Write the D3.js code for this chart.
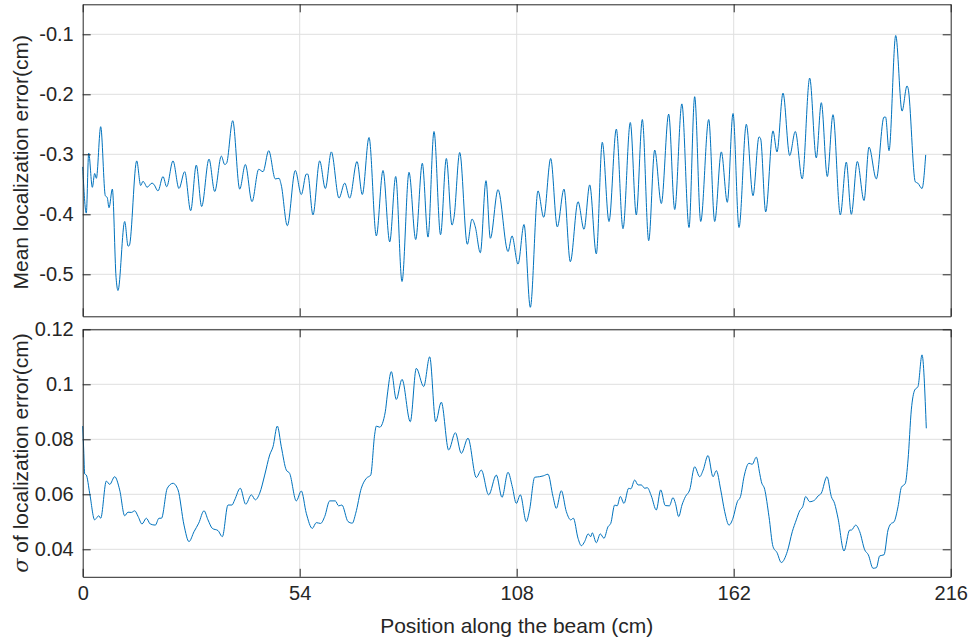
<!DOCTYPE html>
<html>
<head>
<meta charset="utf-8">
<script src="https://cdn.jsdelivr.net/npm/d3@7"></script>
<style>
body { margin: 0; background: #ffffff; }
text { font-family: "Liberation Sans", Arial, sans-serif; fill: #262626; }
</style>
</head>
<body>
<svg id="chart"></svg>
<script>
// top panel: mean localization error (x in cm)
var meanX = [0, 0.9, 1.49, 2.4, 2.98, 3.4, 4.48, 5.63, 6.1, 6.55, 7.38, 8.3, 8.78, 10.45, 11.3, 11.6, 13.44, 14.43, 15.0, 15.4,
	16.0, 17.25, 17.7, 18.74, 19.98, 20.9, 22.47, 23.96, 25.38, 26.87, 28.27, 29.6, 31.43, 32.85, 34.5, 35.33, 35.8, 37.33, 39.07, 40.47,
	42.13, 43.8, 44.87, 46.29, 47.93, 48.85, 49.4, 50.92, 52.9, 54.4, 55.64, 56.0, 57.3, 58.97, 60.38, 61.87, 63.78, 65.2, 66.44, 68.26,
	69.58, 71.25, 73.07, 74.73, 76.4, 77.89, 79.46, 81.2, 82.87, 84.51, 85.93, 87.42, 89.05, 90.49, 91.9, 92.4, 93.82, 95.71, 96.88, 97.7,
	98.95, 100.36, 101.44, 103.35, 105.84, 106.83, 108.33, 109.82, 111.39, 113.3, 114.72, 116.46, 118.1, 119.77, 121.34, 123.26, 124.75, 126.17, 127.81, 129.3,
	130.97, 132.79, 134.45, 136.27, 137.76, 139.26, 140.85, 142.34, 143.99, 145.82, 147.32, 149.1, 150.88, 152.29, 153.79, 155.78, 157.27, 158.92, 160.41, 161.83,
	163.32, 165.14, 166.8, 168.3, 168.7, 169.96, 171.78, 172.77, 174.27, 175.93, 177.33, 179.05, 180.91, 182.55, 183.8, 185.29, 186.71, 188.53, 190.02, 191.27,
	192.76, 194.43, 195.67, 197.49, 199.4, 199.8, 200.65, 202.32, 203.89, 205.13, 205.4, 207.2, 207.8, 208.86, 209.78];
var meanY = [-0.321, -0.398, -0.298, -0.355, -0.332, -0.340, -0.254, -0.369, -0.372, -0.389, -0.358, -0.505, -0.527, -0.412, -0.453, -0.452, -0.311, -0.352, -0.345, -0.348,
	-0.355, -0.348, -0.350, -0.361, -0.337, -0.354, -0.311, -0.357, -0.329, -0.394, -0.318, -0.387, -0.308, -0.362, -0.303, -0.317, -0.315, -0.244, -0.358, -0.317,
	-0.379, -0.325, -0.329, -0.294, -0.341, -0.340, -0.351, -0.419, -0.327, -0.367, -0.333, -0.333, -0.401, -0.311, -0.357, -0.296, -0.373, -0.348, -0.373, -0.312,
	-0.367, -0.272, -0.436, -0.327, -0.446, -0.337, -0.512, -0.330, -0.442, -0.315, -0.438, -0.262, -0.434, -0.307, -0.418, -0.405, -0.297, -0.450, -0.408, -0.421,
	-0.464, -0.344, -0.440, -0.359, -0.462, -0.436, -0.483, -0.417, -0.555, -0.361, -0.405, -0.307, -0.421, -0.358, -0.479, -0.379, -0.425, -0.351, -0.466, -0.280,
	-0.412, -0.258, -0.424, -0.247, -0.401, -0.242, -0.444, -0.293, -0.382, -0.233, -0.392, -0.216, -0.422, -0.204, -0.412, -0.242, -0.412, -0.296, -0.380, -0.232,
	-0.422, -0.250, -0.369, -0.271, -0.274, -0.396, -0.261, -0.296, -0.198, -0.302, -0.262, -0.341, -0.173, -0.306, -0.214, -0.337, -0.234, -0.401, -0.313, -0.400,
	-0.312, -0.377, -0.288, -0.341, -0.238, -0.238, -0.294, -0.102, -0.228, -0.186, -0.190, -0.346, -0.348, -0.357, -0.301];

// bottom panel: standard deviation of localization error
var sigmaX = [0, 0.25, 0.5, 0.9, 1.74, 2.98, 3.4, 3.98, 4.48, 5.88, 6.72, 7.96, 9.2, 10.45, 11.27, 12.1, 12.94, 13.8, 14.76, 15.83,
	16.82, 18.07, 18.99, 19.6, 21.05, 22.47, 23.72, 25.21, 26.45, 27.7, 28.87, 30.19, 31.18, 32.26, 33.67, 34.75, 36.16, 37.15, 37.8, 39.22,
	40.56, 41.97, 42.96, 44.05, 45.29, 46.53, 47.36, 48.43, 49.42, 50.67, 51.5, 53.15, 54.4, 55.64, 57.14, 58.13, 59.2, 60.22, 61.47, 62.86,
	63.69, 64.5, 66.02, 67.09, 67.94, 69.33, 70.57, 71.67, 72.66, 73.07, 73.9, 75.3, 75.8, 76.8, 78.04, 79.46, 81.52, 83.02, 84.86, 86.35,
	87.84, 89.24, 91.07, 92.73, 94.22, 95.88, 97.95, 99.19, 101.03, 102.93, 104.34, 105.84, 106.9, 107.9, 108.9, 110.39, 111.2, 112.48, 113.72, 114.6,
	115.79, 117.03, 117.86, 119.1, 120.35, 121.44, 122.1, 123.26, 124.09, 124.9, 125.79, 126.42, 126.8, 127.81, 128.8, 129.72, 130.72, 131.4, 132.39, 133.0,
	133.79, 134.7, 135.87, 136.4, 137.37, 138.19, 139.0, 139.86, 140.5, 141.5, 142.74, 143.83, 144.98, 146.0, 146.89, 147.5, 148.31, 149.13, 150.0, 151.05,
	152.29, 153.54, 154.4, 155.61, 156.85, 157.68, 158.77, 159.76, 160.83, 161.82, 162.9, 163.7, 164.57, 165.81, 166.6, 167.63, 168.47, 168.88, 169.71, 170.78,
	171.78, 172.77, 173.85, 175.34, 176.58, 177.58, 178.42, 179.2, 179.91, 180.91, 182.15, 183.0, 183.8, 185.21, 186.29, 187.1, 187.96, 189.45, 190.87, 191.3,
	192.36, 193.36, 194.6, 195.5, 196.67, 197.5, 198.33, 199.4, 200.4, 201.06, 201.9, 202.89, 203.72, 204.71, 205.38, 206.2, 207.04, 207.86, 208.86, 209.93];
var sigmaY = [0.0848, 0.0761, 0.0674, 0.0670, 0.0604, 0.0507, 0.0513, 0.0522, 0.0513, 0.0648, 0.0636, 0.0664, 0.0616, 0.0522, 0.0535, 0.0534, 0.0540, 0.0519, 0.0492, 0.0513,
	0.0492, 0.0488, 0.0513, 0.0513, 0.0622, 0.0640, 0.0616, 0.0488, 0.0428, 0.0464, 0.0495, 0.0540, 0.0507, 0.0476, 0.0468, 0.0446, 0.0561, 0.0561, 0.0579, 0.0622,
	0.0564, 0.0598, 0.0580, 0.0604, 0.0670, 0.0743, 0.0773, 0.0848, 0.0773, 0.0688, 0.0676, 0.0576, 0.0612, 0.0531, 0.0476, 0.0497, 0.0494, 0.0519, 0.0576, 0.0576,
	0.0558, 0.0561, 0.0501, 0.0495, 0.0531, 0.0622, 0.0658, 0.0670, 0.0818, 0.0848, 0.0844, 0.0900, 0.0961, 0.1046, 0.0945, 0.1018, 0.0864, 0.1058, 0.0992, 0.1100,
	0.0864, 0.0935, 0.0761, 0.0824, 0.0749, 0.0804, 0.0661, 0.0688, 0.0598, 0.0670, 0.0589, 0.0680, 0.0628, 0.0567, 0.0598, 0.0501, 0.0543, 0.0662, 0.0664, 0.0667,
	0.0673, 0.0592, 0.0549, 0.0613, 0.0537, 0.0507, 0.0513, 0.0440, 0.0413, 0.0428, 0.0456, 0.0446, 0.0460, 0.0424, 0.0456, 0.0440, 0.0482, 0.0494, 0.0561, 0.0558,
	0.0592, 0.0567, 0.0622, 0.0620, 0.0652, 0.0634, 0.0634, 0.0622, 0.0624, 0.0594, 0.0543, 0.0616, 0.0559, 0.0558, 0.0588, 0.0567, 0.0519, 0.0561, 0.0592, 0.0616,
	0.0700, 0.0664, 0.0688, 0.0741, 0.0664, 0.0686, 0.0616, 0.0537, 0.0488, 0.0513, 0.0573, 0.0592, 0.0664, 0.0713, 0.0709, 0.0735, 0.0676, 0.0646, 0.0618, 0.0519,
	0.0410, 0.0388, 0.0352, 0.0392, 0.0464, 0.0507, 0.0540, 0.0556, 0.0592, 0.0573, 0.0579, 0.0594, 0.0604, 0.0664, 0.0592, 0.0567, 0.0513, 0.0394, 0.0470, 0.0470,
	0.0488, 0.0464, 0.0398, 0.0380, 0.0331, 0.0333, 0.0376, 0.0380, 0.0470, 0.0492, 0.0500, 0.0555, 0.0625, 0.0640, 0.0725, 0.0907, 0.0979, 0.0992, 0.1107, 0.0840];

var xTicks = [0, 54, 108, 162, 216];
var meanTicks = [-0.5, -0.4, -0.3, -0.2, -0.1];
var sigmaTicks = [0.04, 0.06, 0.08, 0.1, 0.12];

var dims = {
	width: 971,
	height: 644,
	left: 82.7,
	right: 950.7,
	tickLen: 8,
	tickFont: 20,
	labelFont: 21
};
dims.top = { y0: 4.3, y1: 316.3, domain: [-0.57, -0.05] };
dims.bottom = { y0: 329.3, y1: 576.8, domain: [0.03, 0.12] };

var lineColor = '#0072bd';
var axisColor = '#262626';
var gridColor = '#dfdfdf';

var svg = d3.select('#chart')
	.attr('width', dims.width)
	.attr('height', dims.height);

var x = d3.scaleLinear().domain([0, 216]).range([dims.left, dims.right]);

function drawPanel(p, ticks, xs, ys, fmt, showXLabels) {
	var y = d3.scaleLinear().domain(p.domain).range([p.y1, p.y0]);
	var g = svg.append('g');

	// grid
	g.selectAll('line.gx').data(xTicks.slice(1, -1)).enter()
		.append('line')
		.attr('x1', d => x(d)).attr('x2', d => x(d))
		.attr('y1', p.y0).attr('y2', p.y1)
		.attr('stroke', gridColor).attr('stroke-width', 1);
	g.selectAll('line.gy').data(ticks).enter()
		.append('line')
		.attr('x1', dims.left).attr('x2', dims.right)
		.attr('y1', d => y(d)).attr('y2', d => y(d))
		.attr('stroke', gridColor).attr('stroke-width', 1);

	// data
	var line = d3.line()
		.x(d => x(d[0]))
		.y(d => y(d[1]))
		.curve(d3.curveMonotoneX);
	g.append('path')
		.datum(d3.zip(xs, ys))
		.attr('d', line)
		.attr('fill', 'none')
		.attr('stroke', lineColor)
		.attr('stroke-width', 1);

	// axes, ticks inward on all four sides
	g.append('g').attr('transform', 'translate(' + dims.left + ',0)')
		.call(d3.axisLeft(y).tickValues(ticks).tickSizeInner(-dims.tickLen).tickSizeOuter(0).tickPadding(9).tickFormat(fmt));
	g.append('g').attr('transform', 'translate(' + dims.right + ',0)')
		.call(d3.axisRight(y).tickValues(ticks).tickSizeInner(-dims.tickLen).tickSizeOuter(0).tickFormat(''));
	g.append('g').attr('transform', 'translate(0,' + p.y1 + ')')
		.call(d3.axisBottom(x).tickValues(xTicks).tickSizeInner(-dims.tickLen).tickSizeOuter(0).tickPadding(9)
			.tickFormat(showXLabels ? d3.format('d') : ''));
	g.append('g').attr('transform', 'translate(0,' + p.y0 + ')')
		.call(d3.axisTop(x).tickValues(xTicks).tickSizeInner(-dims.tickLen).tickSizeOuter(0).tickFormat(''));

	g.selectAll('.domain').attr('stroke', axisColor).attr('stroke-width', 1);
	g.selectAll('.tick line').attr('stroke', axisColor);
	g.selectAll('.tick text')
		.attr('font-size', dims.tickFont)
		.attr('font-family', '"Liberation Sans", Arial, sans-serif')
		.attr('fill', axisColor);
	return y;
}

drawPanel(dims.top, meanTicks, meanX, meanY, d => d3.format('.1f')(d).replace('−', '-'), false);
drawPanel(dims.bottom, sigmaTicks, sigmaX, sigmaY, d => (d === 0.1 ? '0.1' : d3.format('.2f')(d)), true);

// axis labels
svg.append('text')
	.attr('transform', 'translate(28,' + ((dims.top.y0 + dims.top.y1) / 2 + 2) + ') rotate(-90)')
	.attr('text-anchor', 'middle')
	.attr('font-size', dims.labelFont)
	.text('Mean localization error(cm)');

var sl = svg.append('text')
	.attr('transform', 'translate(28,' + ((dims.bottom.y0 + dims.bottom.y1) / 2) + ') rotate(-90)')
	.attr('text-anchor', 'middle')
	.attr('font-size', dims.labelFont);
sl.append('tspan').attr('font-style', 'italic').attr('font-family', '"DejaVu Serif", "Liberation Serif", serif').text('σ');
sl.append('tspan').text(' of localization error(cm)');

svg.append('text')
	.attr('x', (dims.left + dims.right) / 2)
	.attr('y', 633)
	.attr('text-anchor', 'middle')
	.attr('font-size', dims.labelFont)
	.text('Position along the beam (cm)');
</script>
</body>
</html>
